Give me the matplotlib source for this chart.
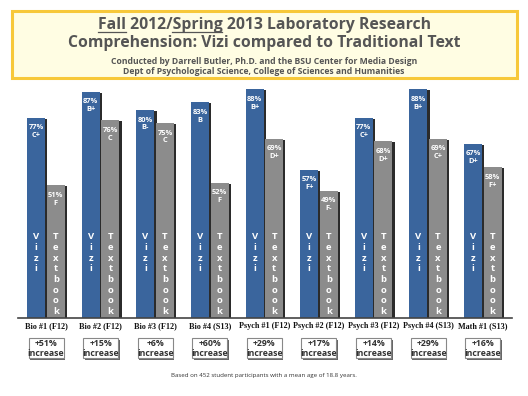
import matplotlib
matplotlib.use("Agg")
import matplotlib.pyplot as plt
from matplotlib.patches import Rectangle
from matplotlib.lines import Line2D
import numpy as np

courses = ["Bio #1 (F12)", "Bio #2 (F12)", "Bio #3 (F12)", "Bio #4 (S13)", "Psych #1 (F12)",
           "Psych #2 (F12)", "Psych #3 (F12)", "Psych #4 (S13)", "Math #1 (S13)"]
vizi = [77, 87, 80, 83, 88, 57, 77, 88, 67]
vizi_grade = ["C+", "B+", "B-", "B", "B+", "F+", "C+", "B+", "D+"]
textbook = [51, 76, 75, 52, 69, 49, 68, 69, 58]
textbook_grade = ["F", "C", "C", "F", "D+", "F-", "D+", "C+", "F+"]
increase = ["+51%", "+15%", "+6%", "+60%", "+29%", "+17%", "+14%", "+29%", "+16%"]

W, H = 528, 396
fig = plt.figure(figsize=(W / 100, H / 100), dpi=100)
ax = fig.add_axes([18 / W, 78 / H, 494 / W, 234 / H])
ax.set_xlim(-0.513, 8.535)
ax.set_ylim(0, 90)
ax.axis("off")

blue = "#3a659d"
grey = "#8c8c8c"
shadow = "#2b2b2b"
bw = 0.33
off = 0.18
sh = 0.04
x = np.arange(len(courses))
sans = "Open Sans"

ax.bar(x - off + sh, [v - 0.4 for v in vizi], bw, color=shadow, zorder=2)
ax.bar(x - off, vizi, bw, color=blue, zorder=3)
ax.bar(x + off + sh, [v - 0.4 for v in textbook], bw, color=shadow, zorder=2)
ax.bar(x + off, textbook, bw, color=grey, zorder=3)

ax.plot([-0.513, 8.535], [0, 0], color="#444444", lw=1.2, zorder=4, clip_on=False)

for i in range(len(courses)):
    for xc, v, g in [(x[i] - off, vizi[i], vizi_grade[i]), (x[i] + off, textbook[i], textbook_grade[i])]:
        ax.text(xc, v - 3.85, f"{v}%", ha="center", va="center", color="white",
                fontsize=5.4, fontweight="bold", family=sans, zorder=5)
        ax.text(xc, v - 6.9, g, ha="center", va="center", color="white",
                fontsize=5.4, fontweight="bold", family=sans, zorder=5)
    for j, ch in enumerate("Vizi"):
        ax.text(x[i] - off, 31.2 - 4.1 * j, ch, ha="center", va="center", color="white",
                fontsize=6.8, fontweight="bold", family=sans, zorder=5)
    for j, ch in enumerate("Textbook"):
        ax.text(x[i] + off, 31.2 - 4.1 * j, ch, ha="center", va="center", color="white",
                fontsize=6.8, fontweight="bold", family=sans, zorder=5)
    ax.text(x[i], -3.1, courses[i], ha="center", va="center", color="#111111",
            fontsize=5.9, fontweight="bold", family="Liberation Serif", clip_on=False)

# increase boxes
for i in range(len(courses)):
    cx = (18 + (x[i] + 0.513) * 494 / 9.048) / W
    bx, by, bwid, bh = cx - 17.5 / W, (H - 358) / H, 35 / W, 20 / H
    fig.patches.append(Rectangle((bx + 1.5 / W, by - 1.5 / H), bwid, bh, transform=fig.transFigure,
                                 facecolor="#666666", edgecolor="none", zorder=1))
    fig.patches.append(Rectangle((bx, by), bwid, bh, transform=fig.transFigure,
                                 facecolor="white", edgecolor="#888888", lw=0.8, zorder=2))
    fig.text(cx, (H - 343) / H, increase[i], ha="center", va="center", color="#333333",
             fontsize=6.3, fontweight="bold", family=sans, zorder=3)
    fig.text(cx, (H - 353) / H, "increase", ha="center", va="center", color="#333333",
             fontsize=6.3, fontweight="bold", family=sans, zorder=3)

# title box
fig.patches.append(Rectangle((12 / W, (H - 78) / H), 505 / W, 67 / H, transform=fig.transFigure,
                             facecolor="#fffde3", edgecolor="#f7c83a", lw=2.2))
title_col = "#555555"
tsize = 11.3
line1 = "Fall 2012/Spring 2013 Laboratory Research"
t1 = fig.text(264 / W, (H - 25) / H, line1, ha="center", va="center", color=title_col,
              fontsize=tsize, fontweight="bold", family=sans)
fig.text(264 / W, (H - 43) / H, "Comprehension: Vizi compared to Traditional Text", ha="center",
         va="center", color=title_col, fontsize=tsize, fontweight="bold", family=sans)
fig.text(264 / W, (H - 61) / H, "Conducted by Darrell Butler, Ph.D. and the BSU Center for Media Design",
         ha="center", va="center", color=title_col, fontsize=6.2, fontweight="bold", family=sans)
fig.text(264 / W, (H - 71) / H, "Dept of Psychological Science, College of Sciences and Humanities",
         ha="center", va="center", color=title_col, fontsize=6.2, fontweight="bold", family=sans)

# underline "Fall" and "Spring"
r = fig.canvas.get_renderer()
full = t1.get_window_extent(r)


def width_of(s):
    t = fig.text(0, 0, s, fontsize=tsize, fontweight="bold", family=sans)
    w = t.get_window_extent(r).width
    t.remove()
    return w


x0 = full.x0
uy = (H - 32) / H
for a, b in [("", "Fall"), ("Fall 2012/", "Fall 2012/Spring")]:
    xa = x0 + (width_of(a) if a else 0)
    xb = x0 + width_of(b)
    fig.lines.append(Line2D([xa / W, xb / W], [uy, uy], transform=fig.transFigure,
                            color=title_col, lw=0.9))

fig.text(264 / W, (H - 375) / H, "Based on 452 student participants with a mean age of 18.8 years.",
         ha="center", va="center", color="#333333", fontsize=4.4, family=sans)

fig.savefig("out.png", dpi=100)
